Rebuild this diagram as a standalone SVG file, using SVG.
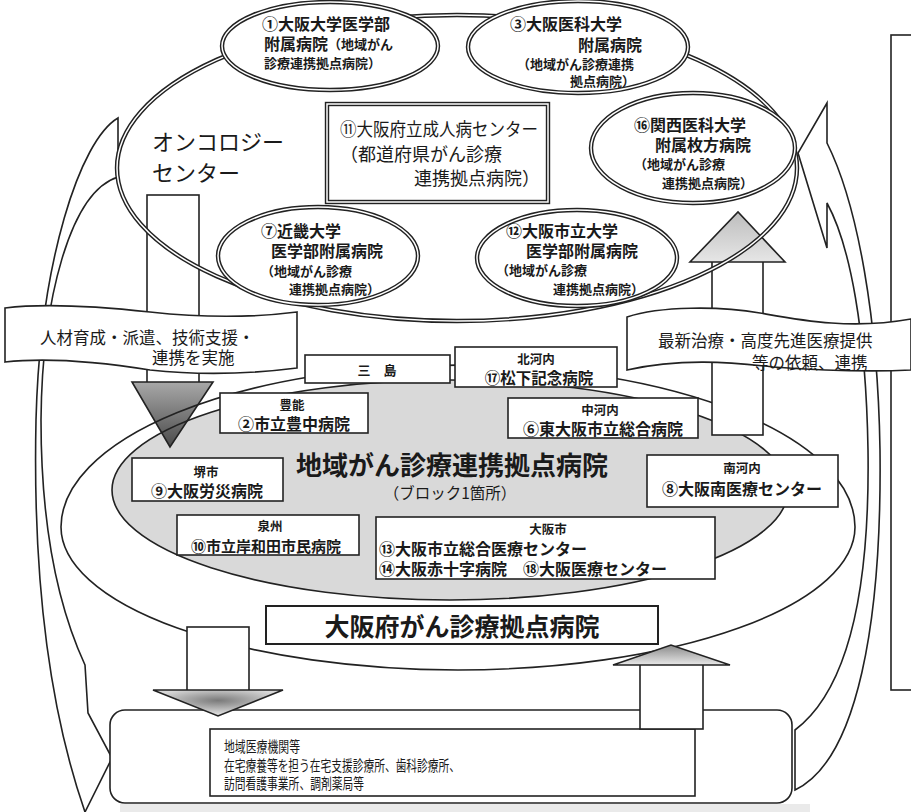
<svg xmlns="http://www.w3.org/2000/svg" width="911" height="812" viewBox="0 0 911 812">
<style>
.t{font-family:"Noto Sans CJK JP","Noto Sans CJK SC",sans-serif;fill:#1a1a1a;dominant-baseline:central}
.b{font-weight:700}
.m{text-anchor:middle}
.ln{fill:#fff;stroke:#222;stroke-width:1.6}
.ol{fill:none;stroke:#222;stroke-width:1.6}
.dO{fill:#fff;stroke:#222;stroke-width:4.4}
.dN{fill:none;stroke:#222;stroke-width:4.4}
.dI{fill:none;stroke:#fff;stroke-width:1.5}
.s13{font-size:13px}
.s16{font-size:16px}
.lab{font-size:12.5px}
</style>
<defs>
<linearGradient id="gDark" x1="0" y1="0" x2="0" y2="1">
<stop offset="0" stop-color="#a8a8a8"/><stop offset="1" stop-color="#4a4a4a"/>
</linearGradient>
<linearGradient id="gLight" x1="0" y1="0" x2="0" y2="1">
<stop offset="0" stop-color="#bdbdbd"/><stop offset="1" stop-color="#e6e6e6"/>
</linearGradient>
<radialGradient id="gBotD" cx="0.5" cy="0.4" r="0.5">
<stop offset="0" stop-color="#7a7a7a"/><stop offset="1" stop-color="#d8d8d8"/>
</radialGradient>
<linearGradient id="gBotU" x1="0" y1="0" x2="0" y2="1">
<stop offset="0" stop-color="#8a8a8a"/><stop offset="1" stop-color="#e8e8e8"/>
</linearGradient>
</defs>
<rect x="0" y="0" width="911" height="812" fill="#fff"/>
<rect x="120" y="804" width="690" height="8" fill="#dcdcdc" opacity="0.6"/>

<g id="right-panel"><rect x="891" y="35" width="40" height="655" class="ol"/></g>

<g id="connectors">
<path id="curve-left" class="ln" d="M118,118 C80,140 40,262 36,420 C33,560 46,700 85,812 L112,758 L88,713 L85,665 C55,600 41,520 41,420 C42,300 70,192 118,177 Z"/>
<path id="curve-right" class="ln" d="M827,103 L798,153 L827,248 L827,203 C850,245 866,330 868,450 C870,590 848,690 795,730 L795,790 C858,760 882,620 880,450 C878,320 858,205 827,143 Z"/>
</g>

<g id="pref-area">
<path d="M61,527 A397,162 0 0 1 855,527 A397,143 0 0 1 61,527 Z" fill="#fff"/>
<ellipse cx="450" cy="490" rx="338" ry="110" fill="#d9d9d9"/>
</g>

<g id="arrow-down-top">
<rect x="147" y="195" width="52" height="188" class="ln"/>
<polygon points="132,382 213,382 170,447" fill="url(#gDark)" stroke="#222" stroke-width="1.6"/>
</g>

<g id="pref-area-lines">
<path d="M61,527 A397,162 0 0 1 855,527 A397,143 0 0 1 61,527 Z" class="ol"/>
<ellipse cx="450" cy="490" rx="338" ry="110" class="ol"/>
</g>

<g id="arrow-up-top">
<rect x="712" y="261" width="51" height="174" class="ln"/>
<polygon points="690,262 785,262 738,212" fill="url(#gLight)" stroke="#222" stroke-width="1.6"/>
</g>

<g id="oncology-center">
<ellipse cx="457" cy="168" rx="340" ry="153" class="dN"/>
<ellipse cx="457" cy="168" rx="340" ry="153" class="dI"/>
<text class="t" x="152" y="140" font-size="22">オンコロジー</text>
<text class="t" x="152" y="171" font-size="22">センター</text>
</g>

<g id="h1">
<ellipse cx="330" cy="46" rx="108" ry="44" class="dO"/>
<ellipse cx="330" cy="46" rx="108" ry="44" class="dI"/>
<text class="t b s16" x="262" y="23">①大阪大学医学部</text>
<text class="t b s16" x="264" y="43">附属病院<tspan font-size="13">（地域がん</tspan></text>
<text class="t b s13" x="264" y="62">診療連携拠点病院）</text>
</g>

<g id="h3">
<ellipse cx="578" cy="47" rx="110" ry="46" class="dO"/>
<ellipse cx="578" cy="47" rx="110" ry="46" class="dI"/>
<text class="t b s16" x="510" y="23">③大阪医科大学</text>
<text class="t b s16" x="578" y="44">附属病院</text>
<text class="t b s13" x="517" y="63">（地域がん診療連携</text>
<text class="t b s13" x="570" y="80">拠点病院）</text>
</g>

<g id="h16">
<ellipse cx="693" cy="148" rx="102" ry="55" class="dO"/>
<ellipse cx="693" cy="148" rx="102" ry="55" class="dI"/>
<text class="t b s16" x="634" y="124">⑯関西医科大学</text>
<text class="t b s16" x="655" y="144">附属枚方病院</text>
<text class="t b s13" x="634" y="163">（地域がん診療</text>
<text class="t b s13" x="662" y="182">連携拠点病院）</text>
</g>

<g id="h7">
<ellipse cx="318" cy="256" rx="100" ry="49" class="dO"/>
<ellipse cx="318" cy="256" rx="100" ry="49" class="dI"/>
<text class="t b s16" x="261" y="230">⑦近畿大学</text>
<text class="t b s16" x="271" y="250">医学部附属病院</text>
<text class="t b s13" x="261" y="270">（地域がん診療</text>
<text class="t b s13" x="289" y="288">連携拠点病院）</text>
</g>

<g id="h12">
<ellipse cx="577" cy="258" rx="100" ry="48" class="dO"/>
<ellipse cx="577" cy="258" rx="100" ry="48" class="dI"/>
<text class="t b s16" x="506" y="230">⑫大阪市立大学</text>
<text class="t b s16" x="526" y="250">医学部附属病院</text>
<text class="t b s13" x="496" y="269">（地域がん診療</text>
<text class="t b s13" x="553" y="288">連携拠点病院）</text>
</g>

<g id="h11">
<rect x="327" y="104" width="221" height="98" class="dO"/>
<rect x="327" y="104" width="221" height="98" class="dI"/>
<text class="t" x="340" y="128" font-size="18" textLength="198" lengthAdjust="spacingAndGlyphs">⑪大阪府立成人病センター</text>
<text class="t" x="340" y="153" font-size="18">（都道府県がん診療</text>
<text class="t" x="414" y="177" font-size="18">連携拠点病院）</text>
</g>

<g id="banner-left">
<path d="M5,308 C45,303 95,306 150,312 C205,318 250,318 297,312 L297,368 C250,374 205,376 150,370 C100,362 50,357 5,362 Z" class="ln"/>
<text class="t" x="40" y="337" font-size="16.5">人材育成・派遣、技術支援・</text>
<text class="t" x="152" y="357" font-size="16.5">連携を実施</text>
</g>

<g id="banner-right">
<path d="M627,317 C660,306 720,306 760,313 C800,320 850,330 911,319 L911,370 C870,372 830,371 773,367 C730,362 680,358 627,370 Z" class="ln"/>
<text class="t" x="658" y="340" font-size="16.5">最新治療・高度先進医療提供</text>
<text class="t" x="752" y="362" font-size="16.5">等の依頼、連携</text>
</g>

<g id="mishima">
<rect x="305" y="355" width="145" height="28" class="ln"/>
<text class="t b s13 m" x="377" y="369">三　島</text>
</g>
<g id="kitakawachi">
<rect x="455" y="347" width="162" height="40" class="ln"/>
<text class="t b lab m" x="536" y="358">北河内</text>
<text class="t b m" x="539" y="377" font-size="15.5">⑰松下記念病院</text>
</g>
<g id="toyono">
<rect x="220" y="393" width="148" height="40" class="ln"/>
<text class="t b lab m" x="292" y="404">豊能</text>
<text class="t b m" x="294" y="423" font-size="16">②市立豊中病院</text>
</g>
<g id="nakakawachi">
<rect x="508" y="398" width="190" height="40" class="ln"/>
<text class="t b lab m" x="600" y="409">中河内</text>
<text class="t b m" x="603" y="428" font-size="16">⑥東大阪市立総合病院</text>
</g>

<g id="regional-title">
<text class="t b m" x="452" y="463" font-size="26">地域がん診療連携拠点病院</text>
<text class="t m" x="450" y="492" font-size="15.5">（ブロック1箇所）</text>
</g>

<g id="minamikawachi">
<rect x="647" y="455" width="191" height="52" class="ln"/>
<text class="t b lab m" x="742" y="467">南河内</text>
<text class="t b m" x="742" y="488" font-size="16">⑧大阪南医療センター</text>
</g>
<g id="sakai">
<rect x="132" y="458" width="151" height="43" class="ln"/>
<text class="t b lab m" x="206" y="471">堺市</text>
<text class="t b m" x="207" y="490" font-size="16">⑨大阪労災病院</text>
</g>
<g id="senshu">
<rect x="177" y="515" width="182" height="40" class="ln"/>
<text class="t b lab m" x="270" y="525">泉州</text>
<text class="t b m" x="266" y="545" font-size="15">⑩市立岸和田市民病院</text>
</g>
<g id="osakashi">
<rect x="376" y="517" width="339" height="62" class="ln"/>
<text class="t b lab m" x="548" y="528">大阪市</text>
<text class="t b" x="379" y="548" font-size="16">⑬大阪市立総合医療センター</text>
<text class="t b" x="379" y="568" font-size="16">⑭大阪赤十字病院　⑱大阪医療センター</text>
</g>

<g id="pref-title">
<rect x="266" y="606" width="392" height="38" fill="#fff" stroke="#222" stroke-width="2"/>
<text class="t b m" x="462" y="625" font-size="25">大阪府がん診療拠点病院</text>
</g>

<g id="local-institutions">
<rect x="110" y="710" width="682" height="93" rx="15" class="ln"/>
<rect x="210" y="729" width="485" height="67" class="ln"/>
<text class="t" x="224" y="745" font-size="15" textLength="76" lengthAdjust="spacingAndGlyphs">地域医療機関等</text>
<text class="t" x="224" y="764" font-size="15" textLength="236" lengthAdjust="spacingAndGlyphs">在宅療養等を担う在宅支援診療所、歯科診療所、</text>
<text class="t" x="224" y="782" font-size="15" textLength="140" lengthAdjust="spacingAndGlyphs">訪問看護事業所、調剤薬局等</text>
</g>

<g id="arrow-down-bottom">
<rect x="187" y="627" width="62" height="64" class="ln"/>
<polygon points="153,690 283,690 218,716" fill="url(#gBotD)" stroke="#222" stroke-width="1.6"/>
</g>
<g id="arrow-up-bottom">
<rect x="640" y="664" width="63" height="65" class="ln"/>
<polygon points="613,665 730,665 671,645" fill="url(#gBotU)" stroke="#222" stroke-width="1.6"/>
</g>
</svg>
